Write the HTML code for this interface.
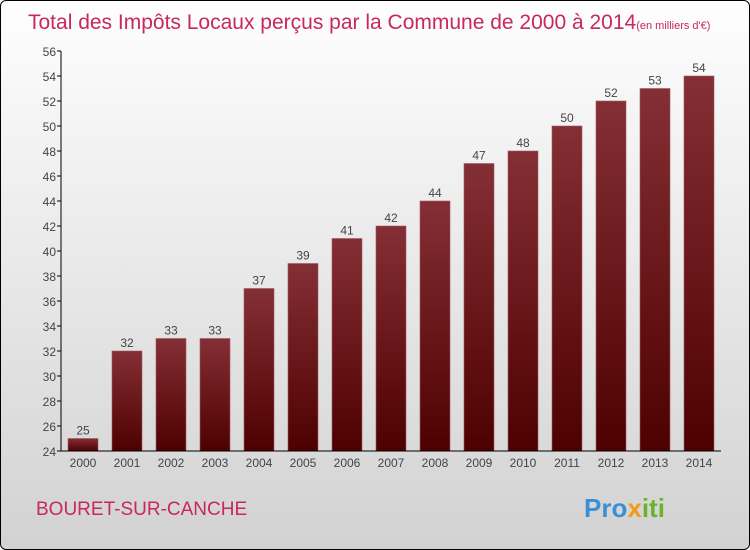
<!DOCTYPE html>
<html><head><meta charset="utf-8"><style>
body{margin:0}
#c{position:relative;width:748px;height:548px;border:1px solid #000;border-radius:6px;background:linear-gradient(#fefefe,#d2d2d2);overflow:hidden;font-family:"Liberation Sans",sans-serif}
</style></head><body>
<div id="c">
<svg width="748" height="548">
<defs><linearGradient id="g" x1="0" y1="0" x2="0" y2="1"><stop offset="0" stop-color="#842f35"/><stop offset="1" stop-color="#4e0000"/></linearGradient></defs>
<text x="27" y="28" font-size="21" fill="#c8285a">Total des Impôts Locaux perçus par la Commune de 2000 à 2014<tspan font-size="11">(en milliers d'€)</tspan></text>
<g id="plot"></g>
<text x="35" y="514" font-size="19" fill="#c8285a">BOURET-SUR-CANCHE</text>
<text x="583" y="516" font-size="26" font-weight="bold"><tspan fill="#3b8fd6">Pro</tspan><tspan fill="#f29a1b">x</tspan><tspan fill="#6ab42d">iti</tspan></text>
</svg></div>
<script>
const years=["2000","2001","2002","2003","2004","2005","2006","2007","2008","2009","2010","2011","2012","2013","2014"];
const values=[25,32,33,33,37,39,41,42,44,47,48,50,52,53,54];
const ticks=[24,26,28,30,32,34,36,38,40,42,44,46,48,50,52,54,56];
const ns="http://www.w3.org/2000/svg",p=document.getElementById('plot');
const y=v=>450-(v-24)*12.5, x=i=>82+i*44;
function mk(t,a,txt){const e=document.createElementNS(ns,t);for(const k in a)e.setAttribute(k,a[k]);if(txt!=null)e.textContent=txt;p.appendChild(e);return e;}
ticks.forEach(t=>{
 const l=mk('line',{x1:56,x2:60,y1:y(t),y2:y(t),stroke:'#000'});
 
 
 const tx=mk('text',{x:55,y:y(t)+5,'font-size':12,fill:'#444','text-anchor':'end'},t);
 
 
});
values.forEach((v,i)=>{
 const r=mk('rect',{x:x(i)-15,y:y(v),width:30,height:450-y(v),fill:'url(#g)',stroke:'#a05a5f','stroke-width':0.6});
 
 
 const vl=mk('text',{x:x(i),y:y(v)-4,'font-size':12,fill:'#444','text-anchor':'middle'},v);
 
 
 const xl=mk('text',{x:x(i),y:466,'font-size':12,fill:'#444','text-anchor':'middle'},years[i]);
 
 
});
const ax=mk('path',{d:'M60 50V450H720',stroke:'#000',fill:'none'});


</script>
</body></html>
